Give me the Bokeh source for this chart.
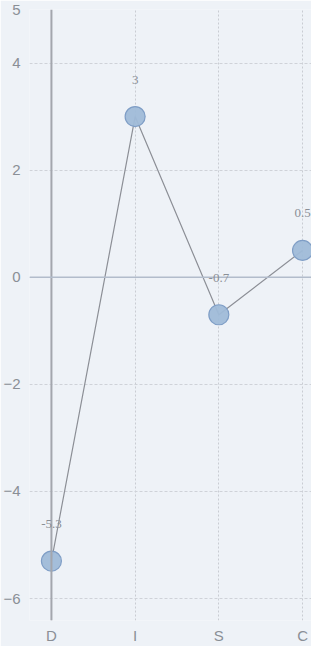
from bokeh.plotting import figure
from bokeh.models import ColumnDataSource, FixedTicker, Span, Range1d, LabelSet
from bokeh.embed import file_html
from bokeh.resources import INLINE

categories = ["D", "I", "S", "C"]
values = [-5.3, 3, -0.7, 0.5]
value_labels = ["-5.3", "3", "-0.7", "0.5"]
y_ticks = [-6, -4, -2, 0, 2, 4, 5]

xs = list(range(len(categories)))
src = ColumnDataSource(dict(x=xs, y=values, lab=value_labels))

p = figure(width=311, height=646, output_backend="svg", toolbar_location=None,
           x_range=Range1d(-0.262, 3.107), y_range=Range1d(-6.41, 5.0),
           min_border_left=0, min_border_right=0, min_border_top=9, min_border_bottom=0)
p.background_fill_color = "#eef2f7"
p.border_fill_color = "#eef2f7"
p.outline_line_color = None

p.xaxis.ticker = FixedTicker(ticks=xs)
p.xaxis.major_label_overrides = {i: c for i, c in enumerate(categories)}
p.yaxis.ticker = FixedTicker(ticks=y_ticks)
for ax in (p.xaxis, p.yaxis):
    ax.axis_line_color = None
    ax.major_tick_line_color = None
    ax.minor_tick_line_color = None
    ax.major_label_text_color = "#8a8f96"
    ax.major_label_text_font = "Liberation Sans"
    ax.major_label_text_font_size = "15px"
p.yaxis.major_label_standoff = 3
p.xaxis.major_label_standoff = 0

p.xgrid.ticker = FixedTicker(ticks=xs)
p.ygrid.ticker = FixedTicker(ticks=y_ticks)
p.xgrid.grid_line_color = "#c9ccd2"
p.xgrid.grid_line_dash = "2 2"
p.ygrid.grid_line_color = "#cfd2d8"
p.ygrid.grid_line_dash = "3 2"

p.add_layout(Span(location=0, dimension="height", line_color="#a3a6ad", line_width=2))
p.add_layout(Span(location=0, dimension="width", line_color="#b2bccb", line_width=1.5))

p.line("x", "y", source=src, line_color="#8c8f96", line_width=1.2)
p.scatter("x", "y", source=src, size=20, fill_color="#9fbad8", line_color="#7f9ec6",
          line_width=1.2, fill_alpha=0.95)

labels = LabelSet(x="x", y="y", text="lab", source=src, y_offset=33, x_offset=0,
                  text_align="center", text_color="#8a8f96", text_font_size="13px",
                  text_font="Liberation Sans")
p.add_layout(labels)

open("out.html", "w").write(file_html(p, INLINE))
